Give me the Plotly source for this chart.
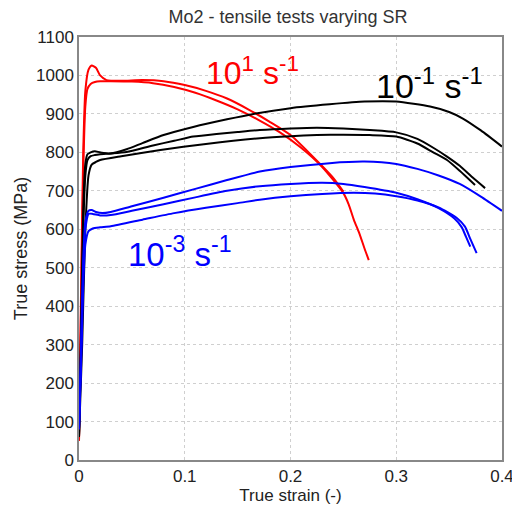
import plotly.graph_objects as go

# ---- data ----
red_a_x = [0.0, 0.002, 0.004, 0.006, 0.009, 0.012, 0.016, 0.020, 0.026, 0.04, 0.06, 0.08, 0.10, 0.12, 0.14, 0.16, 0.18, 0.20, 0.22, 0.24, 0.25]
red_a_y = [50, 450, 800, 960, 1015, 1026, 1020, 1000, 988, 986, 988, 985, 975, 960, 940, 912, 880, 845, 792, 735, 698]

red_b_x = [0.0, 0.002, 0.004, 0.006, 0.008, 0.011, 0.015, 0.02, 0.03, 0.05, 0.07, 0.09, 0.11, 0.13, 0.15, 0.17, 0.19, 0.21, 0.23, 0.25, 0.255, 0.26, 0.265, 0.27, 0.274]
red_b_y = [50, 400, 750, 920, 965, 978, 983, 985, 985, 984, 980, 970, 955, 935, 912, 884, 852, 812, 762, 694, 665, 624, 590, 550, 520]

blk_1_x = [0.0, 0.002, 0.004, 0.006, 0.008, 0.011, 0.015, 0.02, 0.03, 0.045, 0.06, 0.08, 0.108, 0.14, 0.165, 0.2, 0.237, 0.27, 0.3, 0.332, 0.35, 0.363, 0.38, 0.4]
blk_1_y = [60, 350, 650, 770, 795, 800, 803, 800, 797, 808, 824, 845, 866, 886, 900, 915, 925, 932, 932, 919, 905, 888, 857, 815]

blk_2_x = [0.0, 0.002, 0.004, 0.006, 0.008, 0.011, 0.015, 0.02, 0.03, 0.045, 0.07, 0.09, 0.108, 0.13, 0.15, 0.171, 0.2, 0.225, 0.25, 0.275, 0.3, 0.32, 0.335, 0.348, 0.36, 0.372, 0.384]
blk_2_y = [60, 300, 600, 740, 780, 790, 793, 795, 797, 801, 818, 830, 841, 848, 853, 858, 862, 864, 862, 858, 852, 835, 812, 789, 765, 735, 707]

blk_3_x = [0.0, 0.003, 0.006, 0.009, 0.012, 0.016, 0.02, 0.04, 0.077, 0.12, 0.171, 0.2, 0.225, 0.25, 0.275, 0.3, 0.32, 0.335, 0.348, 0.36, 0.3745]
blk_3_y = [60, 300, 600, 740, 768, 775, 780, 790, 806, 822, 837, 842, 845, 846, 845, 841, 823, 800, 780, 752, 715]

blu_1_x = [0.0, 0.002, 0.004, 0.006, 0.009, 0.012, 0.016, 0.022, 0.03, 0.05, 0.08, 0.11, 0.14, 0.171, 0.2, 0.237, 0.27, 0.3, 0.32, 0.34, 0.36, 0.38, 0.4]
blu_1_y = [80, 300, 520, 620, 648, 650, 645, 642, 645, 660, 682, 705, 728, 750, 762, 772, 776, 770, 757, 740, 718, 685, 648]

blu_2_x = [0.0, 0.002, 0.004, 0.006, 0.009, 0.013, 0.02, 0.03, 0.05, 0.08, 0.11, 0.14, 0.171, 0.2, 0.23, 0.25, 0.27, 0.3, 0.32, 0.34, 0.355, 0.362, 0.366, 0.37]
blu_2_y = [80, 280, 500, 600, 640, 640, 636, 637, 648, 665, 683, 700, 712, 718, 721, 718, 710, 695, 678, 655, 628, 605, 580, 555]

blu_3_x = [0.0, 0.002, 0.004, 0.006, 0.009, 0.013, 0.02, 0.03, 0.06, 0.09, 0.12, 0.15, 0.171, 0.2, 0.23, 0.26, 0.28, 0.3, 0.32, 0.34, 0.357, 0.365, 0.37, 0.376]
blu_3_y = [80, 250, 450, 560, 595, 602, 605, 608, 625, 642, 656, 668, 677, 686, 692, 695, 693, 686, 675, 657, 630, 607, 575, 538]

x_ticks = [0, 0.1, 0.2, 0.3, 0.4]
x_tick_labels = ["0", "0.1", "0.2", "0.3", "0.4"]
y_ticks = list(range(0, 1101, 100))

title_text = "Mo2 - tensile tests varying SR"
x_title = "True strain (-)"
y_title = "True stress (MPa)"

labels = [
    ("10<sup>1</sup> s<sup>-1</sup>", 0.1645, 1012, "#ff0000"),
    ("10<sup>-1</sup> s<sup>-1</sup>", 0.331, 978, "#000000"),
    ("10<sup>-3</sup> s<sup>-1</sup>", 0.0955, 541, "#0000ff"),
]

series = [
    (red_a_x, red_a_y, "#ff0000"),
    (red_b_x, red_b_y, "#ff0000"),
    (blk_1_x, blk_1_y, "#000000"),
    (blk_2_x, blk_2_y, "#000000"),
    (blk_3_x, blk_3_y, "#000000"),
    (blu_1_x, blu_1_y, "#0000ff"),
    (blu_2_x, blu_2_y, "#0000ff"),
    (blu_3_x, blu_3_y, "#0000ff"),
]

fig = go.Figure()
for xs, ys, c in series:
    fig.add_trace(go.Scatter(x=xs, y=ys, mode="lines",
                             line=dict(color=c, width=2, shape="spline", smoothing=0.6),
                             showlegend=False, hoverinfo="skip"))

for (txt, x, y, c), sz in zip(labels, [32, 34, 33]):
    fig.add_annotation(x=x, y=y, text=txt, showarrow=False,
                       font=dict(family="Liberation Sans", size=sz, color=c),
                       xanchor="center", yanchor="middle")

axis_common = dict(showline=True, linecolor="#888888", linewidth=1.5, mirror=True,
                   showgrid=True, gridcolor="#cfcfcf", griddash="dot", gridwidth=1,
                   zeroline=False, ticks="", automargin=False, ticklabeloverflow="allow",
                   tickfont=dict(family="Liberation Sans", size=17, color="#222"))

fig.update_layout(
    width=512, height=505,
    margin=dict(l=79, r=10, t=37, b=45, autoexpand=False),
    paper_bgcolor="white", plot_bgcolor="white",
    title=dict(text=title_text, x=0.494, xref="paper", y=1 - 17 / 505, yref="container",
               xanchor="center", yanchor="middle",
               font=dict(family="Liberation Sans", size=18, color="#333")),
    xaxis=dict(range=[0, 0.4], tickvals=x_ticks, ticktext=x_tick_labels,
               title=dict(text=x_title, standoff=5, font=dict(family="Liberation Sans", size=17, color="#222")),
               **axis_common),
    yaxis=dict(range=[0, 1100], tickvals=y_ticks,
               title=dict(text=y_title, standoff=4, font=dict(family="Liberation Sans", size=18, color="#222")),
               **axis_common),
)

fig.write_html("out.html")
